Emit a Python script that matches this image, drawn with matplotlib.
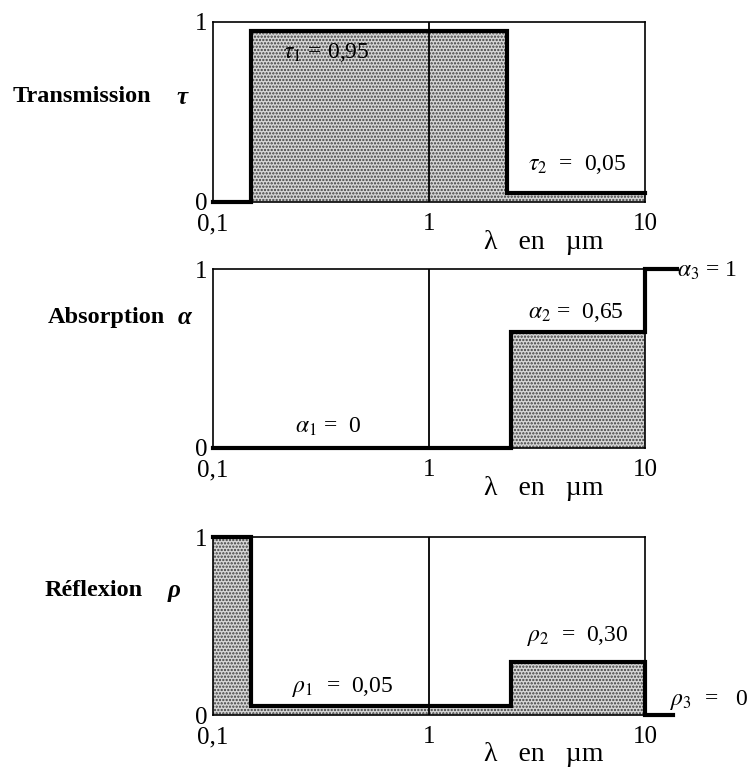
#!/usr/bin/env python3
"""Spectral transmission, absorption and reflection of a window glass,
drawn as step functions of wavelength on a log axis."""

import matplotlib
matplotlib.use("Agg")
import matplotlib.pyplot as plt

plt.rcParams["font.family"] = ["Liberation Serif", "DejaVu Serif"]
plt.rcParams["mathtext.fontset"] = "stix"
plt.rcParams["hatch.linewidth"] = 1.1

# Band edges (µm) and the constant value inside each band
TAU_EDGES = [0.1, 0.15, 2.3, 10]
TAU_VALUES = [0, 0.95, 0.05]

ALPHA_EDGES = [0.1, 2.4, 10, 14]
ALPHA_VALUES = [0, 0.65, 1]

RHO_EDGES = [0.1, 0.15, 2.4, 10, 13.5]
RHO_VALUES = [1, 0.05, 0.30, 0]

X_TICKS = [0.1, 1, 10]
X_TICK_LABELS = ["0,1", "1", "10"]
Y_TICKS = [0, 1]
Y_TICK_LABELS = ["0", "1"]

FILL_FACE = "#d6d6d6"
FILL_DOTS = "#3c3c3c"

W, H = 750, 773


def panel(fig, top_px, bottom_px):
    left, right = 213, 645
    rect = [left / W, 1 - bottom_px / H, (right - left) / W, (bottom_px - top_px) / H]
    ax = fig.add_axes(rect)
    ax.set_xscale("log")
    ax.set_xlim(0.1, 10)
    ax.set_ylim(0, 1)
    ax.minorticks_off()
    ax.set_xticks(X_TICKS, X_TICK_LABELS)
    ax.set_yticks(Y_TICKS, Y_TICK_LABELS)
    ax.tick_params(axis="x", length=0, pad=8, labelsize=18)
    ax.tick_params(axis="y", length=0, pad=4, labelsize=18)
    for spine in ax.spines.values():
        spine.set_linewidth(1.2)
    ax.axvline(1, color="black", lw=1.3, zorder=3)
    ax.text(0.765, -0.26, "λ   en   µm", transform=ax.transAxes,
            ha="center", va="baseline", fontsize=20)
    return ax


def draw_steps(ax, edges, values):
    ys = list(values) + [values[-1]]
    # dotted fill only inside the plotted range
    fx = [e for e in edges if e <= 10]
    fy = ys[:len(fx)]
    ax.fill_between(fx, fy, step="post", facecolor=FILL_FACE,
                    edgecolor=FILL_DOTS, hatch=".....", linewidth=0, zorder=1)
    ax.step(edges, ys, where="post", color="black", lw=3,
            solid_joinstyle="miter", clip_on=False, zorder=4)


def side_label(fig, word, greek, x_word, x_greek, y_px):
    fig.text(x_word / W, 1 - y_px / H, word, fontsize=17.5, fontweight="bold",
             va="center", ha="left")
    fig.text(x_greek / W, 1 - y_px / H, greek, fontsize=18, fontweight="bold",
             fontstyle="italic", va="center", ha="left")


fig = plt.figure(figsize=(W / 100, H / 100), dpi=100)
fig.patch.set_facecolor("white")

ax_t = panel(fig, 22, 202)
draw_steps(ax_t, TAU_EDGES, TAU_VALUES)
ax_t.text(0.21, 0.80, r"$\tau_1$ = 0,95", fontsize=17, va="baseline", zorder=5)
ax_t.text(2.87, 0.18, r"$\tau_2$  =  0,05", fontsize=17, va="baseline", zorder=5)
side_label(fig, "Transmission", "τ", 13, 176, 97)

ax_a = panel(fig, 269, 448)
draw_steps(ax_a, ALPHA_EDGES, ALPHA_VALUES)
ax_a.text(0.24, 0.085, r"$\alpha_1$ =  0", fontsize=17, va="baseline", zorder=5)
ax_a.text(2.87, 0.726, r"$\alpha_2$ =  0,65", fontsize=17, va="baseline", zorder=5)
ax_a.text(14.0, 0.955, r"$\alpha_3$ = 1", fontsize=17, va="baseline",
          clip_on=False, zorder=5)
side_label(fig, "Absorption", "α", 48, 178, 318)

ax_r = panel(fig, 537, 715)
draw_steps(ax_r, RHO_EDGES, RHO_VALUES)
ax_r.text(0.232, 0.13, r"$\rho_1$  =  0,05", fontsize=17, va="baseline", zorder=5)
ax_r.text(2.84, 0.416, r"$\rho_2$  =  0,30", fontsize=17, va="baseline", zorder=5)
ax_r.text(13.05, 0.056, r"$\rho_3$  =   0", fontsize=17, va="baseline",
          clip_on=False, zorder=5)
side_label(fig, "Réflexion", "ρ", 45, 168, 590)

fig.savefig("out.png", dpi=100, facecolor="white")
